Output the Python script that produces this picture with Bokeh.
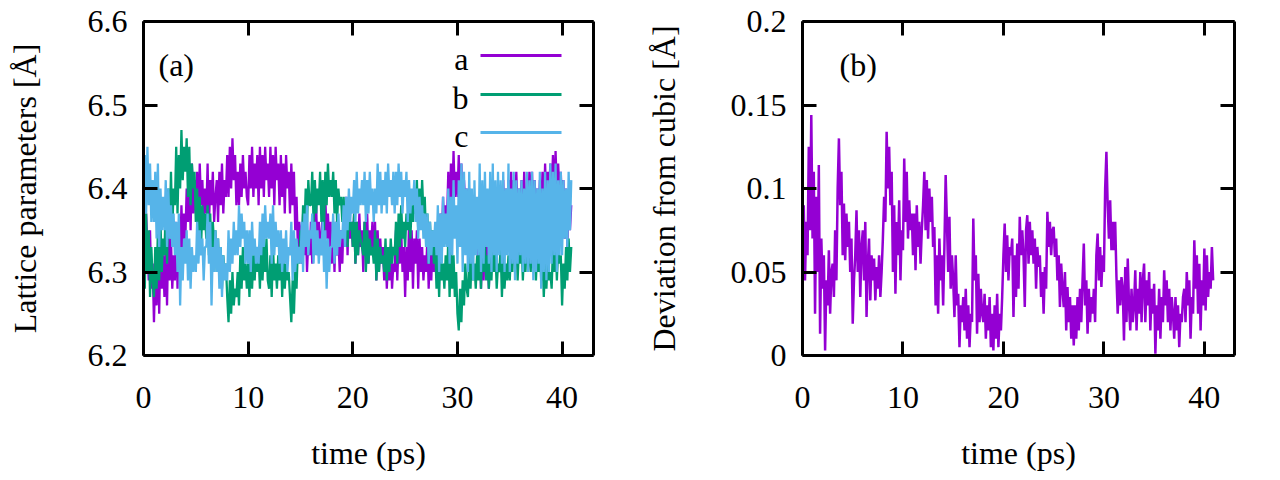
import numpy as np
from bokeh.plotting import figure
from bokeh.models import (LinearAxis, Range1d, FixedTicker, CustomJSTickFormatter,
                          Label, BoxAnnotation)
from bokeh.layouts import row
from bokeh.embed import file_html
from bokeh.resources import INLINE

# ---------------- data, 8 samples per ps ----------------
time_step = 0.125
lat_a = [
    6.36, 6.30, 6.37, 6.33, 6.29, 6.35, 6.28, 6.31,
    6.24, 6.30, 6.26, 6.33, 6.25, 6.34, 6.28, 6.32,
    6.27, 6.33, 6.26, 6.35, 6.29, 6.34, 6.28, 6.32,
    6.29, 6.36, 6.28, 6.35, 6.31, 6.38, 6.33, 6.37,
    6.34, 6.40, 6.36, 6.42, 6.35, 6.43, 6.37, 6.41,
    6.37, 6.42, 6.36, 6.43, 6.38, 6.41, 6.36, 6.40,
    6.37, 6.43, 6.35, 6.41, 6.38, 6.42, 6.36, 6.39,
    6.41, 6.36, 6.42, 6.38, 6.43, 6.37, 6.41, 6.39,
    6.44, 6.39, 6.45, 6.40, 6.46, 6.41, 6.44, 6.38,
    6.42, 6.38, 6.43, 6.39, 6.44, 6.40, 6.42, 6.39,
    6.38, 6.44, 6.40, 6.45, 6.39, 6.43, 6.40, 6.44,
    6.38, 6.45, 6.40, 6.44, 6.39, 6.45, 6.41, 6.43,
    6.39, 6.45, 6.40, 6.44, 6.38, 6.45, 6.41, 6.43,
    6.38, 6.44, 6.39, 6.43, 6.37, 6.44, 6.40, 6.42,
    6.37, 6.43, 6.38, 6.42, 6.35, 6.39, 6.33, 6.36,
    6.35, 6.31, 6.37, 6.32, 6.36, 6.30, 6.34, 6.32,
    6.36, 6.31, 6.37, 6.33, 6.38, 6.32, 6.36, 6.34,
    6.33, 6.38, 6.32, 6.39, 6.34, 6.37, 6.33, 6.36,
    6.31, 6.35, 6.30, 6.36, 6.32, 6.34, 6.30, 6.35,
    6.31, 6.37, 6.33, 6.39, 6.32, 6.38, 6.34, 6.36,
    6.33, 6.37, 6.31, 6.36, 6.32, 6.37, 6.33, 6.35,
    6.30, 6.36, 6.32, 6.37, 6.31, 6.35, 6.33, 6.36,
    6.32, 6.36, 6.29, 6.35, 6.30, 6.34, 6.31, 6.33,
    6.29, 6.33, 6.28, 6.32, 6.29, 6.33, 6.28, 6.31,
    6.30, 6.35, 6.29, 6.34, 6.31, 6.35, 6.30, 6.33,
    6.27, 6.33, 6.29, 6.36, 6.30, 6.35, 6.28, 6.34,
    6.31, 6.35, 6.28, 6.34, 6.30, 6.33, 6.29, 6.32,
    6.30, 6.34, 6.28, 6.33, 6.29, 6.34, 6.30, 6.33,
    6.31, 6.36, 6.30, 6.37, 6.33, 6.39, 6.34, 6.38,
    6.36, 6.42, 6.35, 6.43, 6.38, 6.445, 6.39, 6.42,
    6.39, 6.44, 6.37, 6.43, 6.36, 6.41, 6.38, 6.40,
    6.35, 6.40, 6.33, 6.38, 6.32, 6.37, 6.34, 6.36,
    6.30, 6.36, 6.28, 6.34, 6.29, 6.35, 6.30, 6.33,
    6.28, 6.34, 6.30, 6.36, 6.31, 6.38, 6.32, 6.37,
    6.34, 6.40, 6.33, 6.41, 6.35, 6.40, 6.36, 6.41,
    6.37, 6.42, 6.36, 6.41, 6.38, 6.42, 6.37, 6.40,
    6.36, 6.41, 6.35, 6.42, 6.37, 6.40, 6.36, 6.42,
    6.38, 6.42, 6.35, 6.41, 6.37, 6.40, 6.36, 6.41,
    6.37, 6.42, 6.36, 6.43, 6.38, 6.42, 6.39, 6.43,
    6.39, 6.44, 6.38, 6.445, 6.40, 6.43, 6.39, 6.42,
    6.37, 6.41, 6.34, 6.40, 6.33, 6.38, 6.35, 6.38,
]
lat_b = [
    6.34, 6.28, 6.37, 6.30, 6.35, 6.27, 6.33, 6.29,
    6.27, 6.33, 6.28, 6.35, 6.29, 6.36, 6.30, 6.34,
    6.32, 6.38, 6.31, 6.40, 6.34, 6.42, 6.35, 6.40,
    6.38, 6.45, 6.37, 6.44, 6.40, 6.47, 6.41, 6.45,
    6.42, 6.46, 6.39, 6.45, 6.38, 6.43, 6.40, 6.42,
    6.36, 6.40, 6.34, 6.39, 6.33, 6.38, 6.35, 6.37,
    6.34, 6.38, 6.32, 6.37, 6.31, 6.36, 6.33, 6.35,
    6.30, 6.34, 6.29, 6.33, 6.28, 6.32, 6.30, 6.31,
    6.27, 6.24, 6.29, 6.25, 6.30, 6.26, 6.28, 6.27,
    6.30, 6.26, 6.32, 6.28, 6.33, 6.29, 6.31, 6.28,
    6.31, 6.27, 6.33, 6.28, 6.32, 6.29, 6.33, 6.30,
    6.32, 6.28, 6.34, 6.29, 6.33, 6.30, 6.34, 6.29,
    6.28, 6.32, 6.27, 6.33, 6.29, 6.31, 6.28, 6.32,
    6.29, 6.33, 6.27, 6.32, 6.28, 6.31, 6.29, 6.30,
    6.27, 6.24, 6.29, 6.25, 6.30, 6.28, 6.33, 6.31,
    6.35, 6.33, 6.38, 6.35, 6.40, 6.36, 6.41, 6.38,
    6.38, 6.42, 6.36, 6.41, 6.37, 6.40, 6.38, 6.42,
    6.36, 6.41, 6.35, 6.42, 6.38, 6.43, 6.39, 6.41,
    6.39, 6.42, 6.37, 6.41, 6.36, 6.40, 6.38, 6.39,
    6.36, 6.39, 6.34, 6.38, 6.33, 6.37, 6.35, 6.36,
    6.33, 6.37, 6.31, 6.36, 6.32, 6.35, 6.34, 6.33,
    6.32, 6.36, 6.30, 6.35, 6.31, 6.34, 6.32, 6.33,
    6.31, 6.35, 6.29, 6.34, 6.30, 6.33, 6.31, 6.32,
    6.30, 6.34, 6.29, 6.33, 6.30, 6.34, 6.31, 6.33,
    6.32, 6.36, 6.31, 6.37, 6.33, 6.38, 6.34, 6.36,
    6.33, 6.37, 6.35, 6.39, 6.34, 6.38, 6.36, 6.39,
    6.37, 6.41, 6.35, 6.40, 6.36, 6.41, 6.37, 6.39,
    6.34, 6.37, 6.31, 6.36, 6.32, 6.35, 6.31, 6.33,
    6.28, 6.32, 6.27, 6.33, 6.29, 6.31, 6.28, 6.32,
    6.29, 6.34, 6.27, 6.33, 6.28, 6.32, 6.27, 6.30,
    6.25, 6.23, 6.28, 6.24, 6.29, 6.26, 6.31, 6.28,
    6.27, 6.32, 6.28, 6.33, 6.29, 6.31, 6.28, 6.32,
    6.29, 6.33, 6.28, 6.34, 6.30, 6.33, 6.29, 6.32,
    6.28, 6.32, 6.29, 6.34, 6.30, 6.33, 6.28, 6.31,
    6.30, 6.33, 6.27, 6.32, 6.28, 6.31, 6.29, 6.32,
    6.29, 6.33, 6.30, 6.35, 6.31, 6.34, 6.29, 6.33,
    6.31, 6.34, 6.29, 6.33, 6.30, 6.34, 6.31, 6.32,
    6.30, 6.35, 6.31, 6.34, 6.29, 6.33, 6.30, 6.34,
    6.29, 6.32, 6.27, 6.31, 6.28, 6.32, 6.29, 6.30,
    6.28, 6.33, 6.30, 6.34, 6.29, 6.33, 6.31, 6.32,
    6.26, 6.31, 6.28, 6.33, 6.29, 6.34, 6.30, 6.33,
]
lat_c = [
    6.40, 6.44, 6.37, 6.45, 6.38, 6.43, 6.36, 6.41,
    6.36, 6.42, 6.34, 6.43, 6.33, 6.40, 6.35, 6.39,
    6.35, 6.41, 6.33, 6.40, 6.34, 6.38, 6.33, 6.37,
    6.32, 6.36, 6.30, 6.37, 6.26, 6.33, 6.29, 6.34,
    6.31, 6.35, 6.29, 6.34, 6.28, 6.33, 6.30, 6.32,
    6.30, 6.36, 6.31, 6.35, 6.32, 6.34, 6.29, 6.33,
    6.33, 6.37, 6.31, 6.36, 6.26, 6.33, 6.30, 6.35,
    6.30, 6.34, 6.28, 6.33, 6.27, 6.32, 6.29, 6.31,
    6.29, 6.35, 6.30, 6.34, 6.31, 6.36, 6.32, 6.35,
    6.32, 6.38, 6.33, 6.37, 6.34, 6.36, 6.31, 6.35,
    6.31, 6.35, 6.30, 6.36, 6.32, 6.34, 6.31, 6.33,
    6.31, 6.36, 6.32, 6.37, 6.33, 6.38, 6.34, 6.36,
    6.34, 6.37, 6.31, 6.38, 6.32, 6.36, 6.33, 6.35,
    6.31, 6.35, 6.30, 6.34, 6.31, 6.35, 6.30, 6.33,
    6.32, 6.36, 6.29, 6.35, 6.30, 6.34, 6.31, 6.33,
    6.31, 6.36, 6.30, 6.37, 6.33, 6.38, 6.32, 6.35,
    6.34, 6.37, 6.31, 6.36, 6.32, 6.35, 6.31, 6.34,
    6.32, 6.36, 6.30, 6.35, 6.28, 6.34, 6.30, 6.33,
    6.33, 6.37, 6.31, 6.36, 6.32, 6.37, 6.33, 6.35,
    6.34, 6.38, 6.33, 6.39, 6.35, 6.40, 6.36, 6.39,
    6.37, 6.41, 6.36, 6.42, 6.37, 6.40, 6.38, 6.41,
    6.38, 6.42, 6.36, 6.41, 6.37, 6.42, 6.38, 6.40,
    6.36, 6.40, 6.37, 6.43, 6.38, 6.42, 6.37, 6.41,
    6.38, 6.42, 6.37, 6.43, 6.39, 6.41, 6.38, 6.42,
    6.37, 6.42, 6.38, 6.43, 6.39, 6.42, 6.37, 6.41,
    6.39, 6.42, 6.36, 6.41, 6.37, 6.40, 6.38, 6.41,
    6.36, 6.40, 6.34, 6.39, 6.35, 6.38, 6.34, 6.37,
    6.33, 6.37, 6.31, 6.36, 6.32, 6.35, 6.33, 6.36,
    6.32, 6.38, 6.30, 6.37, 6.31, 6.39, 6.33, 6.37,
    6.33, 6.40, 6.31, 6.39, 6.32, 6.41, 6.34, 6.38,
    6.31, 6.41, 6.33, 6.43, 6.30, 6.42, 6.32, 6.40,
    6.30, 6.42, 6.31, 6.40, 6.29, 6.41, 6.32, 6.39,
    6.32, 6.43, 6.30, 6.41, 6.31, 6.42, 6.33, 6.40,
    6.31, 6.42, 6.30, 6.43, 6.32, 6.41, 6.30, 6.42,
    6.32, 6.41, 6.31, 6.42, 6.30, 6.40, 6.32, 6.43,
    6.30, 6.40, 6.31, 6.42, 6.29, 6.41, 6.31, 6.40,
    6.32, 6.41, 6.30, 6.40, 6.31, 6.42, 6.30, 6.41,
    6.31, 6.42, 6.29, 6.41, 6.30, 6.40, 6.31, 6.42,
    6.28, 6.40, 6.30, 6.42, 6.29, 6.41, 6.30, 6.43,
    6.31, 6.42, 6.32, 6.43, 6.30, 6.41, 6.32, 6.42,
    6.32, 6.41, 6.34, 6.40, 6.33, 6.42, 6.35, 6.41,
]
deviation = [
    0.035, 0.090, 0.045, 0.080, 0.060, 0.125, 0.075, 0.144,
    0.070, 0.110, 0.025, 0.095, 0.050, 0.114, 0.013, 0.070,
    0.040, 0.060, 0.003, 0.045, 0.030, 0.063, 0.025, 0.050,
    0.055, 0.035, 0.075, 0.045, 0.100, 0.130, 0.090, 0.110,
    0.060, 0.091, 0.057, 0.085, 0.065, 0.080, 0.050, 0.070,
    0.019, 0.045, 0.060, 0.087, 0.050, 0.075, 0.035, 0.065,
    0.075, 0.045, 0.080, 0.023, 0.055, 0.070, 0.033, 0.060,
    0.045, 0.058, 0.033, 0.053, 0.040, 0.060, 0.035, 0.050,
    0.070, 0.095, 0.080, 0.134, 0.100, 0.125, 0.090, 0.110,
    0.050, 0.090, 0.037, 0.080, 0.060, 0.093, 0.045, 0.075,
    0.063, 0.118, 0.080, 0.110, 0.070, 0.093, 0.075, 0.085,
    0.060, 0.085, 0.051, 0.090, 0.065, 0.080, 0.055, 0.075,
    0.090, 0.110, 0.075, 0.105, 0.070, 0.100, 0.080, 0.095,
    0.065, 0.077, 0.030, 0.060, 0.025, 0.070, 0.045, 0.060,
    0.030, 0.065, 0.108, 0.080, 0.050, 0.083, 0.040, 0.060,
    0.045, 0.023, 0.060, 0.030, 0.037, 0.005, 0.030, 0.020,
    0.035, 0.015, 0.040, 0.010, 0.030, 0.005, 0.025, 0.020,
    0.082, 0.045, 0.060, 0.013, 0.049, 0.020, 0.040, 0.025,
    0.020, 0.037, 0.010, 0.030, 0.015, 0.035, 0.005, 0.025,
    0.003, 0.030, 0.010, 0.037, 0.005, 0.025, 0.015, 0.035,
    0.060, 0.079, 0.050, 0.072, 0.045, 0.065, 0.060, 0.070,
    0.023, 0.060, 0.035, 0.067, 0.040, 0.083, 0.060, 0.075,
    0.060, 0.029, 0.075, 0.084, 0.055, 0.080, 0.060, 0.075,
    0.055, 0.070, 0.040, 0.065, 0.053, 0.060, 0.035, 0.050,
    0.025, 0.053, 0.040, 0.086, 0.065, 0.080, 0.060, 0.075,
    0.077, 0.059, 0.070, 0.045, 0.060, 0.029, 0.055, 0.040,
    0.029, 0.050, 0.015, 0.041, 0.020, 0.035, 0.010, 0.030,
    0.006, 0.030, 0.010, 0.035, 0.015, 0.040, 0.020, 0.045,
    0.067, 0.030, 0.045, 0.013, 0.040, 0.020, 0.035, 0.025,
    0.040, 0.020, 0.060, 0.073, 0.045, 0.065, 0.041, 0.060,
    0.050, 0.100, 0.122, 0.090, 0.070, 0.093, 0.063, 0.080,
    0.063, 0.080, 0.047, 0.025, 0.045, 0.030, 0.047, 0.040,
    0.009, 0.053, 0.020, 0.058, 0.030, 0.015, 0.040, 0.020,
    0.030, 0.051, 0.015, 0.040, 0.025, 0.050, 0.020, 0.045,
    0.055, 0.020, 0.045, 0.030, 0.050, 0.015, 0.040, 0.025,
    0.043, 0.001, 0.030, 0.015, 0.040, 0.010, 0.035, 0.020,
    0.051, 0.030, 0.045, 0.020, 0.040, 0.015, 0.035, 0.025,
    0.010, 0.035, 0.015, 0.030, 0.005, 0.025, 0.020, 0.035,
    0.040, 0.020, 0.050, 0.030, 0.045, 0.010, 0.035, 0.025,
    0.069, 0.040, 0.060, 0.025, 0.055, 0.015, 0.045, 0.030,
    0.064, 0.027, 0.060, 0.035, 0.050, 0.040, 0.065, 0.045,
]
time = np.arange(len(lat_a)) * time_step

x_ticks = [0, 10, 20, 30, 40]
ya_ticks = [6.2, 6.3, 6.4, 6.5, 6.6]
yb_ticks = [0, 0.05, 0.1, 0.15, 0.2]
series_names = ["a", "b", "c"]
colors = ["#9400D3", "#009E73", "#56B4E9"]

FONT = "Liberation Serif"
FS = "32px"
blank = CustomJSTickFormatter(code="return '';")


def style_axis(ax, ticks, labels=True, fmt=None):
    ax.ticker = FixedTicker(ticks=ticks)
    ax.axis_line_width = 3
    ax.axis_line_color = "black"
    ax.major_tick_in = 14
    ax.major_tick_out = 0
    ax.major_tick_line_width = 3
    ax.major_tick_line_color = "black"
    ax.minor_tick_line_color = None
    ax.major_label_text_font = FONT
    ax.major_label_text_color = "black"
    ax.major_label_text_font_size = FS
    ax.axis_label_text_font = FONT
    ax.axis_label_text_font_style = "normal"
    ax.axis_label_text_font_size = FS
    ax.axis_label_text_color = "black"
    if not labels:
        ax.formatter = blank
        ax.major_label_standoff = 0
    elif fmt is not None:
        ax.formatter = fmt


def make_fig(yr, yticks, left, right, fw, fmt=None):
    p = figure(frame_width=fw, frame_height=334,
               x_range=Range1d(0, 43), y_range=Range1d(*yr),
               output_backend="svg", toolbar_location=None,
               min_border_left=left, min_border_right=right,
               min_border_top=21, min_border_bottom=115,
               background_fill_color="white", border_fill_color="white")
    p.outline_line_color = None
    p.xgrid.visible = False
    p.ygrid.visible = False
    style_axis(p.xaxis[0], x_ticks)
    p.xaxis[0].major_label_standoff = 31
    p.xaxis[0].axis_label = "time (ps)"
    p.xaxis[0].axis_label_standoff = 24
    style_axis(p.yaxis[0], yticks, fmt=fmt)
    p.yaxis[0].major_label_standoff = 16
    top = LinearAxis()
    style_axis(top, x_ticks, labels=False)
    p.add_layout(top, "above")
    rgt = LinearAxis()
    style_axis(rgt, yticks, labels=False)
    p.add_layout(rgt, "right")
    return p


# ---------------- panel (a) ----------------
pa = make_fig((6.2, 6.6), ya_ticks, 143, 49, 450)
pa.yaxis[0].axis_label = "Lattice parameters [Å]"
pa.yaxis[0].axis_label_standoff = 42
for vals, col in zip([lat_a, lat_b, lat_c], colors):
    pa.line(time, vals, line_color=col, line_width=2.3)

pa.add_layout(Label(x=15, y=291, x_units="screen", y_units="screen", text="(a)",
                    text_font=FONT, text_font_size=FS, text_color="black",
                    text_baseline="alphabetic"))
leg_text_y = [297, 258, 220]
leg_line_y = [300, 261, 223]
for name, col, ty, ly in zip(series_names, colors, leg_text_y, leg_line_y):
    pa.add_layout(Label(x=325, y=ty, x_units="screen", y_units="screen", text=name,
                        text_font=FONT, text_font_size=FS, text_color="black",
                        text_align="right", text_baseline="alphabetic"))
    pa.add_layout(BoxAnnotation(left=337, right=418, bottom=ly - 1.5, top=ly + 1.5,
                                left_units="screen", right_units="screen",
                                bottom_units="screen", top_units="screen",
                                fill_color=col, fill_alpha=1.0, line_color=None))

# ---------------- panel (b) ----------------
fmt_b = CustomJSTickFormatter(code="var s = tick.toFixed(2); s = s.replace(/0+$/, ''); return s.replace(/\\.$/, '');")
pb = make_fig((0, 0.2), yb_ticks, 157, 41, 432, fmt=fmt_b)
pb.yaxis[0].axis_label = "Deviation from cubic [Å]"
pb.yaxis[0].axis_label_standoff = 46
pb.line(time, deviation, line_color=colors[0], line_width=2.5)
pb.add_layout(Label(x=37, y=291, x_units="screen", y_units="screen", text="(b)",
                    text_font=FONT, text_font_size=FS, text_color="black",
                    text_baseline="alphabetic"))

layout = row(pa, pb)
open("out.html", "w").write(file_html(layout, INLINE))
